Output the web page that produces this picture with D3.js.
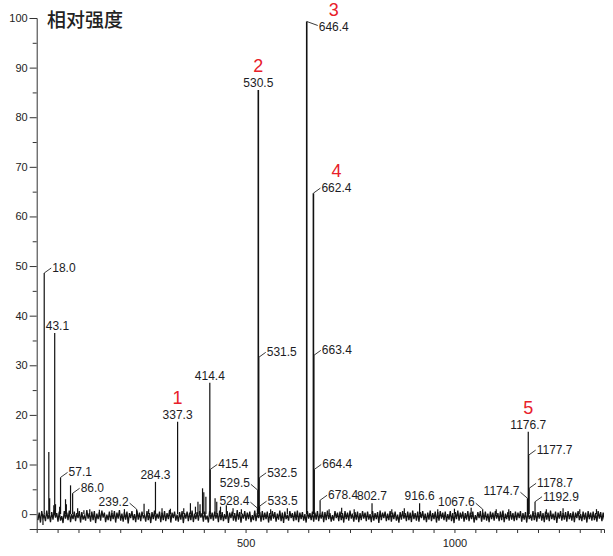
<!DOCTYPE html>
<html>
<head>
<meta charset="utf-8">
<script src="https://cdn.jsdelivr.net/npm/d3@7"></script>
<style>
  body { margin: 0; background: #fff; }
  text { font-family: "Liberation Sans", Arial, sans-serif; }
</style>
</head>
<body>
<div id="chart"></div>
<script>
// labelled peaks (m/z, relative intensity)
const labelMz  = [18.0, 43.1, 57.1, 86.0, 239.2, 284.3, 337.3, 414.4, 415.4, 528.4, 529.5, 530.5, 531.5, 532.5, 533.5,
                  646.4, 662.4, 663.4, 664.4, 678.4, 802.7, 916.6, 1067.6, 1174.7, 1176.7, 1177.7, 1178.7, 1192.9];
const labelInt = [48.6, 36.5, 7.4, 4.2, 1.0, 6.5, 18.6, 26.5, 9.0, 1.2, 4.8, 85.5, 31.6, 7.3, 1.6,
                  99.3, 64.7, 32.0, 9.0, 2.8, 2.2, 2.2, 1.0, 3.2, 16.6, 11.9, 5.2, 2.5];
const peakNumbers = {"337.3": "1", "530.5": "2", "646.4": "3", "662.4": "4", "1176.7": "5"};

// unlabelled small peaks
const minorMz  = [15, 29, 31, 41, 45, 55, 69, 71, 81, 98, 113, 127, 150, 180, 210, 257, 268, 300, 320, 352,
                  368, 380, 386, 391, 397, 400, 405, 427, 431, 440, 454, 470, 490, 560, 600,
                  700, 730, 760, 850, 880, 960, 1000, 1040, 1100, 1130, 1220, 1260, 1300, 1340];
const minorInt = [-2.2, 12.5, 3.2, 1.8, 2.0, 1.5, 3.0, 2.0, 5.8, 1.2, 0.8, 1.0, 0.9, 0.8, 1.0, 2.1, 1.0, 1.2, 1.1, 1.2,
                  2.2, 1.5, 2.5, 2.0, 5.2, 4.4, 3.5, 3.2, 2.5, 1.5, 1.8, 1.2, 1.0, 1.0, 1.2,
                  1.0, 1.3, 1.0, 1.0, 1.2, 1.0, 1.1, 1.3, 1.0, 1.0, 1.0, 1.2, 1.0, 1.0];

// baseline noise, sampled every 3 m/z starting at 3
const noiseStart = 3, noiseStep = 3;
const noise = [
-1.2,0.3,-1.7,0.6,-0.8,-0.2,-1.4,0.7,-1.0,0.1,-1.6,0.4,-1.1,0.8,-0.7,0.2,-1.5,0.5,-1.3,-0.4,
-1.8,0.6,-0.9,0.3,-1.2,0.7,-1.6,0.0,-1.0,0.5,-1.4,0.2,-0.8,0.6,-1.7,0.4,-1.1,-0.3,-1.3,0.8,
-0.9,0.2,-1.5,0.5,-1.2,0.6,-1.8,0.1,-1.0,0.4,-1.3,0.7,-0.7,0.3,-1.6,-0.1,-1.2,0.5,-1.4,0.2,
-1.0,0.6,-1.7,0.3,-0.9,0.8,-1.3,0.1,-1.5,0.4,-1.1,0.5,-1.9,0.2,-0.8,0.6,-1.2,0.0,-1.6,0.7,
-1.1,0.3,-1.4,0.5,-0.7,-0.2,-1.5,0.6,-1.2,0.2,-1.8,0.4,-1.0,0.7,-1.3,0.1,-0.9,0.5,-1.6,0.3,
-1.2,0.6,-1.4,0.2,-1.0,0.8,-1.7,0.3,-0.8,0.5,-1.3,-0.1,-1.5,0.4,-1.1,0.6,-1.8,0.2,-0.9,0.5,
-1.4,0.3,-1.2,0.7,-1.6,0.1,-1.0,0.4,-1.3,0.6,-0.7,0.2,-1.5,0.5,-1.1,-0.3,-1.7,0.6,-1.0,0.3,
-1.3,0.5,-0.9,0.2,-1.6,0.7,-1.2,0.4,-1.4,0.0,-1.0,0.6,-1.8,0.3,-0.8,0.5,-1.3,0.2,-1.5,0.8,
-1.1,0.4,-1.7,0.1,-0.9,0.6,-1.3,0.3,-1.0,0.5,-1.6,-0.2,-1.2,0.7,-1.4,0.2,-0.8,0.4,-1.5,0.6,
-1.2,0.3,-1.0,0.5,-1.7,0.2,-1.3,0.6,-0.9,0.4,-1.5,0.1,-1.1,0.7,-1.4,0.3,-1.8,0.5,-1.0,-0.1,
-1.3,0.6,-0.8,0.2,-1.4,0.5,-1.2,0.7,-1.6,0.3,-1.0,0.4,-1.3,0.0,-1.7,0.6,-0.9,0.2,-1.2,0.5,
-1.5,0.3,-1.1,0.6,-1.4,0.1,-0.9,0.5,-1.6,0.4,-1.2,0.7,-1.0,0.2,-1.5,-0.2,-1.3,0.6,-0.8,0.3,
-1.4,0.5,-1.2,0.2,-1.7,0.6,-1.0,0.3,-1.3,0.7,-0.9,0.1,-1.5,0.4,-1.1,0.5,-1.6,0.2,-1.2,0.6,
-0.9,0.3,-1.4,0.5,-1.1,0.0,-1.6,0.6,-1.3,0.2,-1.0,0.4,-1.8,0.7,-1.2,0.3,-0.8,0.5,-1.4,0.1,
-1.2,0.6,-1.5,0.3,-1.0,0.5,-1.3,-0.1,-1.7,0.4,-1.1,0.6,-0.9,0.2,-1.4,0.5,-1.2,0.3,-1.6,0.7,
-1.0,0.2,-1.3,0.5,-1.5,0.4,-0.8,0.6,-1.2,0.1,-1.6,0.3,-1.1,0.7,-1.4,0.2,-1.0,0.5,-1.7,0.4,
-1.3,0.6,-0.9,0.3,-1.2,0.5,-1.5,0.0,-1.1,0.6,-1.4,0.2,-1.8,0.4,-1.0,0.7,-1.3,0.3,-0.9,0.5,
-1.5,0.2,-1.1,0.6,-1.4,0.3,-1.0,0.5,-1.7,-0.2,-1.2,0.4,-0.8,0.6,-1.5,0.3,-1.1,0.5,-1.3,0.1,
-1.6,0.5,-1.0,0.3,-1.3,0.6,-0.9,0.2,-1.4,0.5,-1.2,0.7,-1.6,0.1,-1.0,0.4,-1.3,0.6,-1.1,0.2,
-1.4,0.5,-1.2,0.3,-0.8,0.6,-1.5,0.2,-1.1,0.4,-1.7,0.5,-1.0,-0.1,-1.3,0.6,-1.2,0.3,-1.5,0.4,
-0.9,0.6,-1.3,0.2,-1.6,0.5,-1.1,0.3,-1.4,0.7,-1.0,0.1,-1.2,0.5,-1.8,0.3,-0.9,0.6,-1.3,0.2,
-1.1,0.4,-1.5,0.6,-1.0,0.2,-1.3,0.5,-1.6,0.3,-0.8,0.6,-1.2,0.0,-1.4,0.5,-1.1,0.3,-1.7,0.6,
-1.0,0.3,-1.3,0.5,-1.2,0.2,-1.5,0.6,-0.9,0.4,-1.4,0.3,-1.1,0.5
];

const yTicks = d3.range(0, 101, 5);
const xTicks = d3.range(50, 1351, 50);
const xLabelled = [500, 1000];
const yTitle = "相对强度";

// where each label sits relative to its peak: t = above, r = right, l = left, d = right & down, tl = over top-left
const labelSide = {
  "18.0": "r", "43.1": "tl", "57.1": "r", "86.0": "r", "239.2": "l", "284.3": "t", "337.3": "t",
  "414.4": "t", "415.4": "r", "528.4": "l", "529.5": "l", "530.5": "t", "531.5": "r", "532.5": "r",
  "533.5": "r", "646.4": "d", "662.4": "r", "663.4": "r", "664.4": "r", "678.4": "r", "802.7": "t",
  "916.6": "t", "1067.6": "l", "1174.7": "l", "1176.7": "t", "1177.7": "r", "1178.7": "r", "1192.9": "r"
};

const W = 613, H = 556;
const svg = d3.select("#chart").append("svg")
  .attr("width", W).attr("height", H);

const x = d3.scaleLinear().domain([0, 1358]).range([36.7, 604]);
const y = d3.scaleLinear().domain([-3, 100]).range([529, 18]);

svg.append("clipPath").attr("id", "plot")
  .append("rect").attr("x", 37).attr("y", 0).attr("width", 567).attr("height", 529);

// axes
const yAxis = svg.append("g")
  .attr("transform", "translate(36.7,0)")
  .call(d3.axisLeft(y).tickValues(yTicks).tickSizeOuter(0).tickSize(7)
    .tickFormat(d => d % 10 === 0 ? d : ""));
yAxis.selectAll(".tick line").attr("x2", d => d % 10 === 0 ? -7 : -4);
yAxis.selectAll("text").attr("x", -9).style("font-size", "11px").attr("fill", "#222");

const xAxis = svg.append("g")
  .attr("transform", "translate(0,529)")
  .call(d3.axisBottom(x).tickValues(xTicks).tickSizeOuter(0).tickSize(4)
    .tickFormat(d => xLabelled.includes(d) ? d : ""));
xAxis.selectAll("text").attr("y", 10).style("font-size", "11px").attr("fill", "#222");
svg.selectAll(".domain, .tick line").attr("stroke", "#333").attr("stroke-width", 1);

// title
svg.append("text").attr("x", 47).attr("y", 27)
  .style("font-family", "'Noto Sans CJK SC', sans-serif").style("font-size", "19px")
  .style("font-weight", 500).attr("fill", "#222").text(yTitle);

// baseline noise
const noisePts = noise.map((v, i) => [noiseStart + i * noiseStep, v]);
svg.append("path")
  .datum(noisePts)
  .attr("clip-path", "url(#plot)")
  .attr("fill", "none").attr("stroke", "#151515").attr("stroke-width", 1.3)
  .attr("d", d3.line().x(d => x(d[0])).y(d => y(d[1])));

// sticks
const sticks = minorMz.map((m, i) => [m, minorInt[i]])
  .concat(labelMz.map((m, i) => [m, labelInt[i]]));
svg.append("g").selectAll("line")
  .data(sticks)
  .join("line")
  .attr("x1", d => x(d[0])).attr("x2", d => x(d[0]))
  .attr("y1", y(0)).attr("y2", d => y(d[1]))
  .attr("stroke", "#111")
  .attr("stroke-width", d => d[1] > 60 ? 1.6 : 1.2);

// labels
const lab = svg.append("g").style("font-size", "12px").attr("fill", "#1c1c24");
labelMz.forEach((m, i) => {
  const key = m.toFixed(1);
  const side = labelSide[key];
  const px = x(m), py = y(labelInt[i]);
  let tx, ty, anchor = "start";
  if (side === "t") {
    tx = px; ty = py - 3; anchor = "middle";
  } else if (side === "tl") {
    tx = px - 9; ty = py - 3;
  } else if (side === "r") {
    lab.append("line").attr("x1", px).attr("y1", py).attr("x2", px + 7).attr("y2", py - 5)
      .attr("stroke", "#222").attr("stroke-width", 0.9);
    tx = px + 8; ty = py - 1;
  } else if (side === "l") {
    lab.append("line").attr("x1", px).attr("y1", py).attr("x2", px - 7).attr("y2", py - 6)
      .attr("stroke", "#222").attr("stroke-width", 0.9);
    tx = px - 8; ty = py - 3; anchor = "end";
  } else if (side === "d") {
    lab.append("line").attr("x1", px).attr("y1", py).attr("x2", px + 11).attr("y2", py + 4)
      .attr("stroke", "#222").attr("stroke-width", 0.9);
    tx = px + 12; ty = py + 10;
  }
  const t = lab.append("text").attr("x", tx).attr("y", ty).attr("text-anchor", anchor).text(key);
  if (peakNumbers[key]) {
    const w = t.node().getComputedTextLength();
    const cx = anchor === "middle" ? tx : tx + w / 2;
    svg.append("text").attr("x", cx).attr("y", ty - 15).attr("text-anchor", "middle")
      .style("font-size", "18px").attr("fill", "#e8202a").text(peakNumbers[key]);
  }
});
</script>
</body>
</html>
